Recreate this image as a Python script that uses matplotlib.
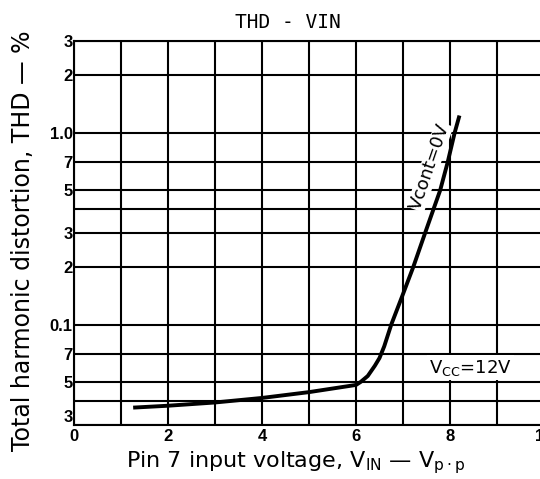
import numpy as np
import matplotlib.pyplot as plt

# THD vs input voltage
v_in = [1.3, 2.0, 3.0, 4.0, 5.0, 6.0, 6.1, 6.25, 6.4, 6.5, 6.6, 6.75, 6.98, 7.22, 7.47, 7.65, 7.79, 7.95, 8.1, 8.19]
thd = [0.037, 0.0378, 0.0393, 0.0415, 0.0445, 0.0485, 0.0503, 0.054, 0.061, 0.067, 0.077, 0.1, 0.14, 0.2, 0.3, 0.4, 0.5, 0.7, 1.0, 1.2]

x_ticks = [0, 2, 4, 6, 8, 10]
y_grid = [0.03, 0.04, 0.05, 0.07, 0.1, 0.2, 0.3, 0.4, 0.5, 0.7, 1.0, 2, 3]
y_ticks = [0.03, 0.05, 0.07, 0.1, 0.2, 0.3, 0.5, 0.7, 1.0, 2, 3]
y_labels = ['3', '5', '7', '0.1', '2', '3', '5', '7', '1.0', '2', '3']

fig = plt.figure(figsize=(5.4, 4.79), dpi=100)
# axes runs a little past the right edge, like the scanned sheet
ax = fig.add_axes([74/540, 54/479, 470/540, 384/479])
ax.set_yscale('log')
ax.set_xlim(0, 10)
ax.set_ylim(0.03, 3)

for x in range(0, 11):
    ax.axvline(x, color='black', lw=1.5, zorder=1)
for y in y_grid:
    ax.axhline(y, color='black', lw=1.5, zorder=1)

ax.plot(v_in, thd, color='black', lw=2.8, solid_joinstyle='round', zorder=3)

ax.set_xticks(x_ticks)
ax.set_xticklabels([str(t) for t in x_ticks], fontweight='bold', fontsize=12,
                   fontfamily='Liberation Sans')
ax.yaxis.set_minor_locator(plt.NullLocator())
ax.yaxis.set_minor_formatter(plt.NullFormatter())
ax.set_yticks(y_ticks)
ax.set_yticklabels(y_labels, fontweight='bold', fontsize=12, fontfamily='Liberation Sans')
ax.get_yticklabels()[0].set_va('bottom')  # bottom "3" sits just above the axis
ax.tick_params(axis='y', length=0, pad=1)
ax.tick_params(axis='x', length=0, pad=3)
for s in ax.spines.values():
    s.set_linewidth(1.5)

ax.text(7.57, 0.665, 'Vcont=0V', rotation=71, fontsize=13, ha='center', va='center',
        zorder=4, bbox=dict(facecolor='white', edgecolor='none', pad=0.3))
ax.text(8.43, 0.0597, r'V$_{\rm CC}$=12V', fontsize=13, ha='center', va='center',
        zorder=4, bbox=dict(facecolor='white', edgecolor='none', pad=1.5))

fig.text(0.533, 0.954, 'THD - VIN', fontsize=14, ha='center', va='center',
         fontfamily='DejaVu Sans Mono')
fig.text(0.042, 0.497, 'Total harmonic distortion, THD — %', rotation=90,
         fontsize=17, ha='center', va='center')
fig.text(0.548, 0.035, r'Pin 7 input voltage, V$_{\rm IN}$ — V$_{\rm p\cdot p}$',
         fontsize=16, ha='center', va='center')

fig.savefig('out.png', dpi=100)
